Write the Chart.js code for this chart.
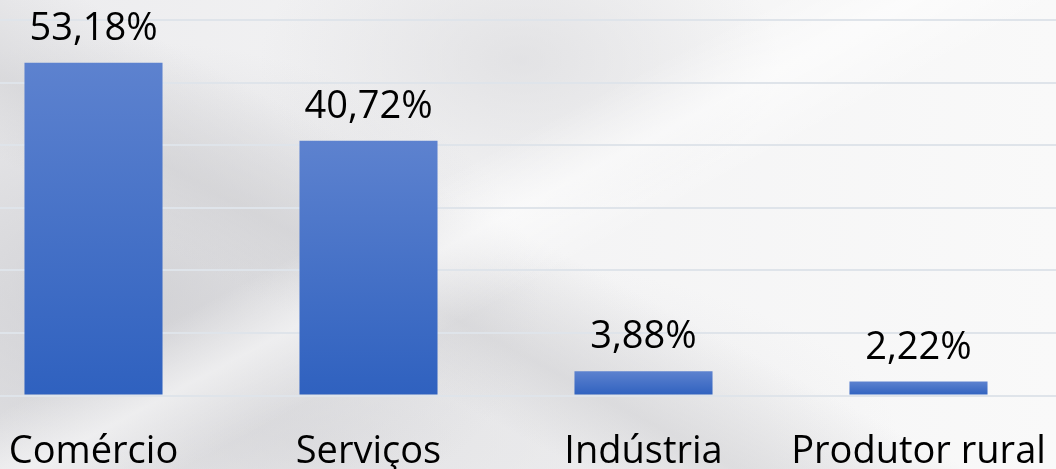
<!DOCTYPE html>
<html>
<head>
<meta charset="utf-8">
<script src="https://cdn.jsdelivr.net/npm/chart.js@4/dist/chart.umd.min.js"></script>
<style>
  html, body { margin: 0; padding: 0; width: 1056px; height: 469px; overflow: hidden; }
  body {
    position: relative;
    background:
      linear-gradient(152deg, rgba(255,255,255,0) 0%, rgba(255,255,255,0) 40%, rgba(255,255,255,0.55) 47%, rgba(255,255,255,0) 55%),
      linear-gradient(28deg, rgba(205,205,208,0.0) 30%, rgba(205,205,208,0.55) 38%, rgba(205,205,208,0.0) 50%),
      radial-gradient(ellipse 420px 260px at 120px 300px, rgba(200,200,204,0.75), rgba(200,200,204,0) 100%),
      radial-gradient(ellipse 260px 160px at 520px 60px, rgba(215,215,218,0.6), rgba(215,215,218,0) 100%),
      radial-gradient(ellipse 600px 200px at 300px 440px, rgba(215,215,218,0.6), rgba(215,215,218,0) 100%),
      linear-gradient(90deg, #ececee 0%, #f3f3f4 45%, #f9f9f9 100%);
  }
  #wrap { position: absolute; left: -44px; top: 0; width: 1100px; height: 475px; }
</style>
</head>
<body>
<div id="wrap"><canvas id="c"></canvas></div>
<script>
const categories = ["Comércio", "Serviços", "Indústria", "Produtor rural"];
const values = [53.18, 40.72, 3.88, 2.22];
const yTicks = [0, 10, 20, 30, 40, 50, 60];

const FONT = '"Open Sans", "Noto Sans", sans-serif';

function fmt(v) {
  return v.toFixed(2).replace('.', ',') + '%';
}

const labelPlugin = {
  id: 'valueLabels',
  afterDatasetsDraw(chart) {
    const ctx = chart.ctx;
    const meta = chart.getDatasetMeta(0);
    ctx.save();
    ctx.font = '38px ' + FONT;
    ctx.fillStyle = '#000000';
    ctx.textAlign = 'center';
    ctx.textBaseline = 'alphabetic';
    meta.data.forEach((bar, i) => {
      ctx.fillText(fmt(values[i]), bar.x, bar.y - 23);
    });
    ctx.restore();
  }
};

function barGradient(context) {
  const chart = context.chart;
  const y = chart.scales && chart.scales.y;
  if (!chart.chartArea || !y) return '#4470c8';
  const v = values[context.dataIndex];
  const top = y.getPixelForValue(v);
  const base = y.getPixelForValue(0);
  const g = chart.ctx.createLinearGradient(0, top, 0, base);
  g.addColorStop(0, '#5d82cf');
  g.addColorStop(1, '#2f61bf');
  return g;
}

new Chart(document.getElementById('c'), {
  type: 'bar',
  data: {
    labels: categories,
    datasets: [{
      data: values,
      backgroundColor: barGradient,
      borderWidth: 0,
      categoryPercentage: 1.0,
      barPercentage: 0.502
    }]
  },
  options: {
    responsive: true,
    maintainAspectRatio: false,
    animation: false,
    events: [],
    layout: { padding: { top: 20, left: 0, right: 0, bottom: 0 } },
    plugins: {
      legend: { display: false },
      tooltip: { enabled: false }
    },
    scales: {
      x: {
        grid: { display: false, drawTicks: false },
        border: { display: false },
        afterFit(axis) {
          axis.height = 79.5;
          axis.paddingLeft = 0;
          axis.paddingRight = 0;
        },
        ticks: {
          color: '#000000',
          padding: 34,
          font: { family: FONT, size: 38, lineHeight: 1.2 },
          maxRotation: 0,
          autoSkip: false
        }
      },
      y: {
        min: yTicks[0],
        max: yTicks[yTicks.length - 1],
        afterBuildTicks(axis) { axis.ticks = yTicks.map(v => ({ value: v })); },
        afterFit(axis) { axis.width = 0; },
        grid: { color: '#dfe4ea', lineWidth: 2, drawTicks: false },
        border: { display: false },
        ticks: { display: false }
      }
    }
  },
  plugins: [labelPlugin]
});
</script>
</body>
</html>
